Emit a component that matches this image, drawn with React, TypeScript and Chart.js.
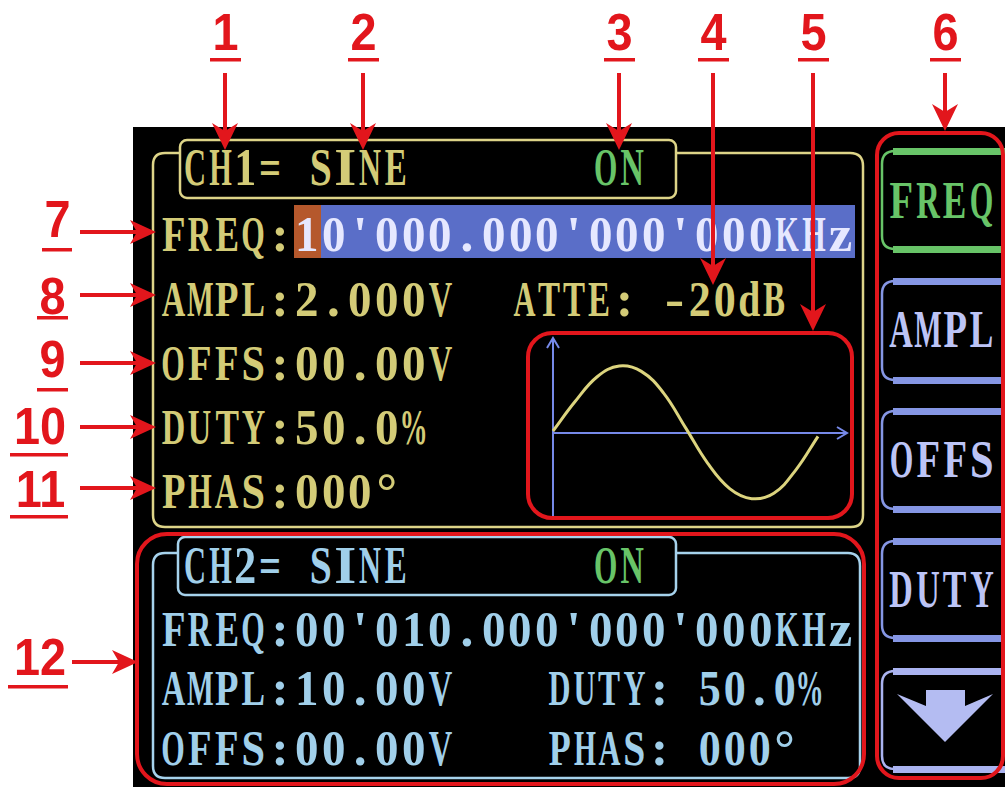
import React, { useEffect, useRef } from "react";
import { Chart, registerables } from "chart.js";

Chart.register(...registerables);

// ---- data: sine preview (phase steps, level) ----
const wavePhase = [0, 1, 2, 3, 4, 5, 6, 7, 8, 9, 10, 11, 12];
const waveLevel = [0.03, 0.47, 0.84, 1.0, 0.92, 0.6, 0.08, -0.45, -0.83, -0.98, -0.9, -0.55, -0.05];

// ---- screen texts ----
const ch1Header = "CH1= SINE";
const ch2Header = "CH2= SINE";
const stateText = "ON";
const ch1FreqLabel = "FREQ:";
const ch1FreqValue = "10'000.000'000'000KHz";
const ch1Rows = ["AMPL:2.000V", "OFFS:00.00V", "DUTY:50.0%", "PHAS:000°"];
const ch1Atte = "ATTE: -20dB";
const ch2Rows = ["FREQ:00'010.000'000'000KHz", "AMPL:10.00V", "OFFS:00.00V"];
const ch2Right = ["DUTY: 50.0%", "PHAS: 000°"];
const menuKeys = ["FREQ", "AMPL", "OFFS", "DUTY"];
const topCallouts = ["1", "2", "3", "4", "5", "6"];
const sideCallouts = ["7", "8", "9", "10", "11", "12"];

// ---- styling ----
const YEL_TXT = "#d3cb77";
const YEL_LINE = "#ddd488";
const BLU_TXT = "#a0cfea";
const BLU_LINE = "#a6d2ec";
const GRN = "#68c468";
const BTN = "#8596e4";
const BTN_TXT = "#bcc4f6";
const RED = "#e2161c";
const WAVE = "#dcd47e";
const AXIS = "#7689e8";

let measureCtx: CanvasRenderingContext2D | null = null;
function glyphWidth(ch: string, font: string): number {
  if (!measureCtx) measureCtx = document.createElement("canvas").getContext("2d");
  if (!measureCtx) return 1;
  measureCtx.font = font;
  return measureCtx.measureText(ch).width;
}

function Mono(props: {
  x: number;
  y: number;
  text: string;
  cell: number;
  cap: number;
  color: string;
  weight?: number;
  fill?: number;
}) {
  const { x, y, text, cell, cap, color } = props;
  const weight = props.weight ?? 700;
  const fill = props.fill ?? 0.88;
  const fs = cap / 0.662;
  const font = `${weight} ${fs}px "Liberation Serif"`;
  return (
    <div
      style={{
        position: "absolute",
        left: x,
        top: y - 0.1755 * fs,
        height: fs,
        display: "flex",
        fontFamily: '"Liberation Serif", serif',
        fontSize: fs,
        fontWeight: weight,
        lineHeight: `${fs}px`,
        color,
        whiteSpace: "pre",
      }}
    >
      {Array.from(text).map((ch, i) => {
        const w = glyphWidth(ch, font) || 1;
        let s = (cell * fill) / w;
        if (/[.:'°]/.test(ch) || ch === " ") s = 1;
        s = Math.max(0.55, Math.min(1.12, s));
        return (
          <span
            key={i}
            style={{ flex: `0 0 ${cell}px`, width: cell, display: "flex", justifyContent: "center" }}
          >
            <span style={{ display: "inline-block", transform: `scaleX(${s})` }}>{ch}</span>
          </span>
        );
      })}
    </div>
  );
}

function Callout(props: { text: string; cx: number; top: number }) {
  const fs = 52;
  return (
    <div
      style={{
        position: "absolute",
        left: props.cx - 60,
        width: 120,
        top: props.top - 0.1305 * fs,
        textAlign: "center",
        fontFamily: '"Liberation Sans", Arial, sans-serif',
        fontWeight: 700,
        fontSize: fs,
        lineHeight: `${fs}px`,
        color: RED,
      }}
    >
      <span style={{ display: "inline-block", transform: "scaleX(0.9)" }}>{props.text}</span>
    </div>
  );
}

const X_MIN = -0.362;
const X_MAX = 13.449;
const Y_MIN = -1.284;
const Y_MAX = 1.448;

const axesPlugin = {
  id: "miniAxes",
  beforeDatasetsDraw(chart: any) {
    const { ctx, chartArea, scales } = chart;
    const x0 = scales.x.getPixelForValue(0);
    const y0 = scales.y.getPixelForValue(0);
    const top = chartArea.top + 2;
    const bottom = chartArea.bottom - 1;
    const right = chartArea.right - 3;
    ctx.save();
    ctx.strokeStyle = AXIS;
    ctx.lineWidth = 2;
    ctx.beginPath();
    ctx.moveTo(x0, bottom);
    ctx.lineTo(x0, top);
    ctx.moveTo(x0 - 6, top + 10);
    ctx.lineTo(x0, top);
    ctx.lineTo(x0 + 6, top + 10);
    ctx.moveTo(x0, y0);
    ctx.lineTo(right, y0);
    ctx.moveTo(right - 10, y0 - 6);
    ctx.lineTo(right, y0);
    ctx.lineTo(right - 10, y0 + 6);
    ctx.stroke();
    ctx.restore();
  },
};

function SineInset() {
  const ref = useRef<HTMLCanvasElement>(null);
  useEffect(() => {
    if (!ref.current) return;
    const chart = new Chart(ref.current, {
      type: "line",
      data: {
        datasets: [
          {
            data: wavePhase.map((p, i) => ({ x: p, y: waveLevel[i] })),
            borderColor: WAVE,
            borderWidth: 3,
            pointRadius: 0,
            tension: 0.4,
            fill: false,
          },
        ],
      },
      options: {
        animation: false,
        responsive: false,
        maintainAspectRatio: false,
        events: [],
        layout: { padding: 0 },
        plugins: { legend: { display: false }, tooltip: { enabled: false } },
        scales: {
          x: { type: "linear", display: false, min: X_MIN, max: X_MAX },
          y: { type: "linear", display: false, min: Y_MIN, max: Y_MAX },
        },
      },
      plugins: [axesPlugin],
    } as any);
    return () => chart.destroy();
  }, []);
  return (
    <canvas
      ref={ref}
      width={305}
      height={183}
      style={{ position: "absolute", left: 545, top: 336, width: 305, height: 183 }}
    />
  );
}

function MenuButton(props: { top: number; bottom: number; color: string }) {
  const { top, bottom, color } = props;
  return (
    <g>
      <path
        d={`M1005,${top} H895 Q882,${top} 882,${top + 13} V${bottom - 13} Q882,${bottom} 895,${bottom} H1005`}
        fill="none"
        stroke={color}
        strokeWidth={2.5}
      />
      <rect x={893} y={top - 3} width={112} height={7} fill={color} />
      <rect x={893} y={bottom - 3} width={112} height={7} fill={color} />
    </g>
  );
}

export default function App() {
  const cell = 26.7;
  const rowTops1 = [282, 346, 410, 474];
  const rowTops2 = [612, 671, 731];
  const btnTops = [183, 312, 442, 572];
  const btnFrames = [
    [151, 249],
    [281, 380],
    [411, 509],
    [541, 638],
  ];
  const topX = [225, 363, 619, 713, 813, 945];
  const topTip = [150, 150, 150, 285, 331, 131];
  const sideCx = [57, 52, 52, 40, 40, 40];
  const sideTop = [200, 277, 340, 407, 470, 638];
  const sideUl: [number, number, number][] = [
    [248, 42, 72],
    [316, 37, 68],
    [388, 37, 68],
    [453, 10, 68],
    [515, 10, 68],
    [685, 8, 68],
  ];
  const sideArrowY = [232, 295, 363, 427, 488, 662];
  const sideArrowFrom = [80, 80, 80, 80, 80, 72];
  const sideArrowTip = [156, 156, 156, 156, 156, 138];

  return (
    <div
      style={{
        position: "fixed",
        left: 0,
        top: 0,
        width: 1005,
        height: 787,
        background: "#ffffff",
        overflow: "hidden",
      }}
    >
      {/* screen frames */}
      <svg width={1005} height={787} style={{ position: "absolute", left: 0, top: 0 }}>
        <rect x={133} y={127} width={872} height={660} fill="#000" />
        {/* CH1 panel */}
        <path
          d="M180,153 H165 Q153,153 153,165 V515 Q153,527 165,527 H851 Q863,527 863,515 V166 Q863,153 850,153 H676"
          fill="none"
          stroke={YEL_LINE}
          strokeWidth={2.5}
        />
        <rect x={180} y={140} width={496} height={58} rx={7} fill="#000" stroke={YEL_LINE} strokeWidth={2.5} />
        {/* frequency cursor highlight */}
        <rect x={294} y={205} width={27} height={53} fill="#b5582c" />
        <rect x={321} y={205} width={534} height={53} fill="#5a6ec8" />
        {/* CH2 panel */}
        <path
          d="M178,553 H165 Q153,553 153,565 V766 Q153,778 165,778 H848 Q860,778 860,766 V566 Q860,553 848,553 H676"
          fill="none"
          stroke={BLU_LINE}
          strokeWidth={2.5}
        />
        <rect x={178} y={537} width={498} height={58} rx={7} fill="#000" stroke={BLU_LINE} strokeWidth={2.5} />
        {/* menu keys */}
        <MenuButton top={btnFrames[0][0]} bottom={btnFrames[0][1]} color={GRN} />
        <MenuButton top={btnFrames[1][0]} bottom={btnFrames[1][1]} color={BTN} />
        <MenuButton top={btnFrames[2][0]} bottom={btnFrames[2][1]} color={BTN} />
        <MenuButton top={btnFrames[3][0]} bottom={btnFrames[3][1]} color={BTN} />
        <MenuButton top={671} bottom={769} color="#aab3f0" />
        <polygon
          points="897,694 926,706 926,690 965,690 965,706 993,694 945,742"
          fill="#b4bcf2"
        />
      </svg>

      {/* CH1 texts */}
      <Mono x={183} y={150} text={ch1Header} cell={25} cap={35} color={YEL_TXT} />
      <Mono x={592} y={150} text={stateText} cell={26.5} cap={35} color={GRN} />
      <Mono x={160} y={217} text={ch1FreqLabel} cell={cell} cap={34} color={YEL_TXT} />
      <Mono x={160 + 5 * cell} y={217} text={ch1FreqValue} cell={cell} cap={34} color="#e6e8ff" />
      {ch1Rows.map((t, i) => (
        <Mono key={t} x={160} y={rowTops1[i]} text={t} cell={cell} cap={34} color={YEL_TXT} />
      ))}
      <Mono x={512} y={282} text={ch1Atte} cell={25} cap={34} color={YEL_TXT} />

      {/* CH2 texts */}
      <Mono x={183} y={548} text={ch2Header} cell={25} cap={35} color={BLU_TXT} />
      <Mono x={592} y={548} text={stateText} cell={26.5} cap={35} color={GRN} />
      {ch2Rows.map((t, i) => (
        <Mono key={t + i} x={160} y={rowTops2[i]} text={t} cell={cell} cap={34} color={BLU_TXT} />
      ))}
      <Mono x={547} y={671} text={ch2Right[0]} cell={25} cap={34} color={BLU_TXT} />
      <Mono x={547} y={731} text={ch2Right[1]} cell={25} cap={34} color={BLU_TXT} />

      {/* menu key labels */}
      {menuKeys.map((t, i) => (
        <Mono
          key={t}
          x={888}
          y={btnTops[i]}
          text={t}
          cell={26.75}
          cap={35}
          color={i === 0 ? GRN : BTN_TXT}
        />
      ))}

      <SineInset />

      {/* red callouts */}
      <svg
        width={1005}
        height={787}
        style={{ position: "absolute", left: 0, top: 0, pointerEvents: "none" }}
      >
        <rect x={528} y={333} width={324} height={185} rx={24} fill="none" stroke={RED} strokeWidth={4} />
        <rect x={137} y={534} width={727} height={250} rx={30} fill="none" stroke={RED} strokeWidth={4} />
        <rect x={877} y={133} width={126} height={645} rx={22} fill="none" stroke={RED} strokeWidth={4} />
        {topX.map((x, i) => (
          <g key={"t" + i}>
            <rect x={x - 15} y={58} width={31} height={3.5} fill={RED} />
            <line x1={x} y1={73} x2={x} y2={topTip[i] - 18} stroke={RED} strokeWidth={4} />
            <polygon
              points={`${x},${topTip[i]} ${x - 13},${topTip[i] - 27} ${x},${topTip[i] - 19} ${x + 13},${topTip[i] - 27}`}
              fill={RED}
            />
          </g>
        ))}
        {sideArrowY.map((y, i) => (
          <g key={"s" + i}>
            <rect x={sideUl[i][1]} y={sideUl[i][0]} width={sideUl[i][2] - sideUl[i][1]} height={3.5} fill={RED} />
            <line x1={sideArrowFrom[i]} y1={y} x2={sideArrowTip[i] - 18} y2={y} stroke={RED} strokeWidth={4} />
            <polygon
              points={`${sideArrowTip[i]},${y} ${sideArrowTip[i] - 26},${y - 12} ${sideArrowTip[i] - 19},${y} ${sideArrowTip[i] - 26},${y + 12}`}
              fill={RED}
            />
          </g>
        ))}
      </svg>
      {topCallouts.map((t, i) => (
        <Callout key={"c" + t} text={t} cx={topX[i]} top={13} />
      ))}
      {sideCallouts.map((t, i) => (
        <Callout key={"d" + t} text={t} cx={sideCx[i]} top={sideTop[i]} />
      ))}
    </div>
  );
}
